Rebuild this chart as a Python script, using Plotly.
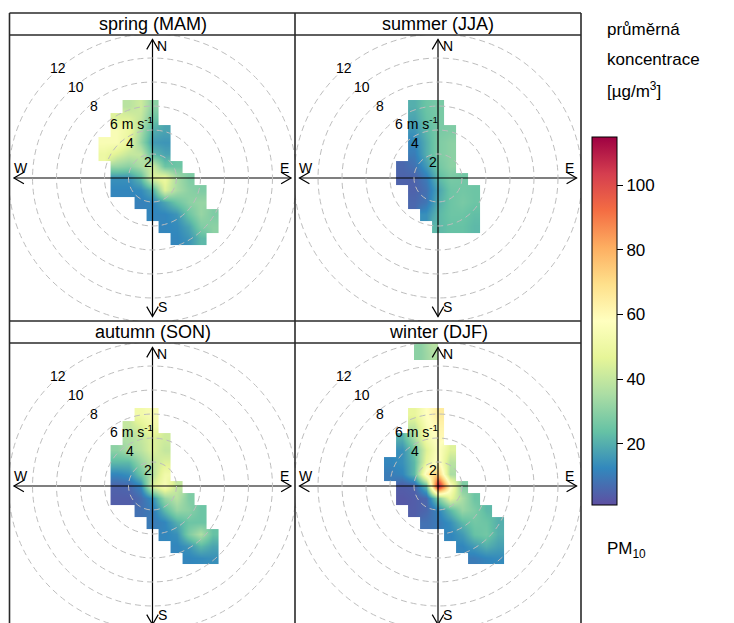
import plotly.graph_objects as go

# ---------------- data ----------------
SEASONS = ["spring (MAM)", "summer (JJA)", "autumn (SON)", "winter (DJF)"]
U_COLS = [-4, -3, -2, -1, 0, 1, 2, 3, 4, 5, 6]            # east-west wind component [m/s]
V_ROWS = [6, 5, 4, 3, 2, 1, 0, -1, -2, -3, -4, -5, -6]    # north-south wind component [m/s]
N = None

SPRING = [
    [N, N, 38, 42, 30, N, N, N, N, N, N],
    [N, 45, 45, 40, 25, N, N, N, N, N, N],
    [N, 55, 50, 35, 20, 18, N, N, N, N, N],
    [55, 55, 48, 32, 16, 15, N, N, N, N, N],
    [50, 45, 40, 40, 22, 18, N, N, N, N, N],
    [N, 32, 30, 35, 42, 25, 25, N, N, N, N],
    [N, 14, 14, 22, 45, 50, 35, 28, N, N, N],
    [N, 12, 12, 13, 20, 45, 35, 30, 28, N, N],
    [N, N, N, 11, 12, 18, 25, 30, 32, N, N],
    [N, N, N, N, 12, 12, 15, 25, 32, 28, N],
    [N, N, N, N, N, 12, 13, 18, 28, 30, N],
    [N, N, N, N, N, N, 12, 15, 22, N, N],
    [N, N, N, N, N, N, N, N, N, N, N],
]
SUMMER = [
    [N, N, 20, 25, 27, N, N, N, N, N, N],
    [N, N, 18, 24, 27, N, N, N, N, N, N],
    [N, N, 15, 22, 27, 28, N, N, N, N, N],
    [N, N, 12, 20, 28, 30, N, N, N, N, N],
    [N, N, 10, 20, 28, 30, N, N, N, N, N],
    [N, 6, 8, 16, 26, 30, N, N, N, N, N],
    [N, 5, 5, 10, 22, 27, 26, N, N, N, N],
    [N, N, 5, 8, 18, 25, 26, 25, N, N, N],
    [N, N, 6, 9, 20, 25, 27, 25, N, N, N],
    [N, N, N, 14, 22, 25, 25, 23, N, N, N],
    [N, N, N, N, 22, 24, 24, 22, N, N, N],
    [N, N, N, N, N, N, N, N, N, N, N],
    [N, N, N, N, N, N, N, N, N, N, N],
]
AUTUMN = [
    [N, N, N, 52, 55, N, N, N, N, N, N],
    [N, N, 40, 45, 52, N, N, N, N, N, N],
    [N, N, 36, 40, 45, 42, N, N, N, N, N],
    [N, 30, 35, 38, 45, 40, N, N, N, N, N],
    [N, 22, 22, 32, 40, 45, N, N, N, N, N],
    [N, 12, 14, 25, 38, 52, N, N, N, N, N],
    [N, 5, 6, 12, 45, 55, 40, N, N, N, N],
    [N, 4, 4, 7, 14, 32, 38, 28, N, N, N],
    [N, N, N, 8, 10, 22, 32, 30, 25, N, N],
    [N, N, N, N, 10, 12, 20, 25, 25, N, N],
    [N, N, N, N, N, 12, 14, 28, 36, 24, N],
    [N, N, N, N, N, N, 12, 15, 22, 18, N],
    [N, N, N, N, N, N, N, 12, 13, 14, N],
]
WINTER = [
    [N, N, 48, 58, 65, N, N, N, N, N, N],
    [N, N, 40, 55, 62, N, N, N, N, N, N],
    [N, 20, 35, 52, 60, N, N, N, N, N, N],
    [N, 14, 25, 45, 58, 45, N, N, N, N, N],
    [12, 14, 22, 48, 60, 38, N, N, N, N, N],
    [10, 12, 22, 62, 75, 35, N, N, N, N, N],
    [N, 4, 5, 22, 112, 60, 28, N, N, N, N],
    [N, 3, 4, 6, 28, 48, 35, 25, N, N, N],
    [N, N, 4, 6, 12, 22, 32, 28, 22, N, N],
    [N, N, N, 8, 10, 14, 22, 26, 25, 20, N],
    [N, N, N, N, N, 12, 16, 24, 26, 20, N],
    [N, N, N, N, N, N, 12, 16, 20, 17, N],
    [N, N, N, N, N, N, N, 10, 12, 13, N],
]
WINTER_TOP_U = [-1.5, -0.5]
WINTER_TOP_V = [11, 12]
WINTER_TOP = [[30, 36], [30, 38]]

GRIDS = [SPRING, SUMMER, AUTUMN, WINTER]
RING_SPEEDS = [2, 4, 6, 8, 10, 12]
TICK_VALUES = [20, 40, 60, 80, 100]
C_MIN, C_MAX = 1, 115
SPECTRAL_R = ["#5E4FA2", "#3288BD", "#66C2A5", "#ABDDA4", "#E6F598", "#FFFFBF",
              "#FEE08B", "#FDAE61", "#F46D43", "#D53E4F", "#9E0142"]

# ---------------- layout constants ----------------
W, H = 734, 623
FONT = "Liberation Sans, Arial, Helvetica, sans-serif"
PANEL = 286          # panel size in px
LEFTS = [9.5, 295]   # panel left edges px
TOPS = [35, 343]     # plot-area top edges px
STRIP = 22
R = 11.92            # half axis range in m/s
SCALE = PANEL / (2 * R)
UPPER = 11.55
HEAD_BACK, HEAD_SIDE = 0.83, 0.48

fig = go.Figure()
shapes = []
annotations = []

colorscale = [[i / (len(SPECTRAL_R) - 1), c] for i, c in enumerate(SPECTRAL_R)]

for i, (title, grid) in enumerate(zip(SEASONS, GRIDS)):
    n = i + 1
    col, row = i % 2, i // 2
    x0 = LEFTS[col]
    x1 = x0 + PANEL
    yt = TOPS[row]
    yb = min(yt + PANEL, H)
    xa = "x" if n == 1 else f"x{n}"
    ya = "y" if n == 1 else f"y{n}"
    ybottom = R - (yb - yt) / SCALE
    fig.update_layout(**{
        ("xaxis" if n == 1 else f"xaxis{n}"): dict(
            domain=[x0 / W, x1 / W], range=[-R, R], visible=False,
            anchor=ya, fixedrange=True),
        ("yaxis" if n == 1 else f"yaxis{n}"): dict(
            domain=[1 - yb / H, 1 - yt / H], range=[ybottom, R], visible=False,
            anchor=xa, fixedrange=True),
    })

    fig.add_trace(go.Heatmap(
        x=U_COLS, y=V_ROWS[::-1], z=grid[::-1], coloraxis="coloraxis",
        zsmooth="best", xaxis=xa, yaxis=ya, hoverinfo="skip"))
    if title.startswith("winter"):
        fig.add_trace(go.Heatmap(
            x=WINTER_TOP_U, y=WINTER_TOP_V, z=WINTER_TOP, coloraxis="coloraxis",
            zsmooth="best", xaxis=xa, yaxis=ya, hoverinfo="skip"))

    # dashed speed rings
    for r in RING_SPEEDS:
        shapes.append(dict(type="circle", xref=xa, yref=ya, x0=-r, x1=r, y0=-r, y1=r,
                           line=dict(color="#BDBDBD", width=1, dash="6px,4px"),
                           layer="above"))

    # compass cross with open arrow heads
    U, hb, hs = UPPER, HEAD_BACK, HEAD_SIDE
    xs = [-U, U, None, 0, 0, None,
          U - hb, U, U - hb, None, -U + hb, -U, -U + hb, None,
          hs, 0, -hs, None, hs, 0, -hs]
    ys = [0, 0, None, -U, U, None,
          hs, 0, -hs, None, hs, 0, -hs, None,
          U - hb, U, U - hb, None, -U + hb, -U, -U + hb]
    fig.add_trace(go.Scatter(x=xs, y=ys, mode="lines", xaxis=xa, yaxis=ya,
                             line=dict(color="black", width=1.2),
                             hoverinfo="skip", showlegend=False))

    for txt, ax_, ay_ in [("N", 0.07 * U, 0.95 * U), ("S", 0.07 * U, -0.93 * U),
                          ("W", -0.95 * U, 0.07 * U), ("E", 0.95 * U, 0.07 * U)]:
        annotations.append(dict(text=txt, x=ax_, y=ay_, xref=xa, yref=ya,
                                showarrow=False, font=dict(size=14, color="black", family=FONT),
                                xanchor="center", yanchor="middle", borderpad=0))

    for r in RING_SPEEDS:
        lx = -0.745 * r + 1.09
        ly = 0.778 * r - 0.2
        if r == 6:
            annotations.append(dict(text="6 m s<sup>-1</sup>", x=lx - 0.33, y=ly + 0.15,
                                    xref=xa, yref=ya, showarrow=False,
                                    font=dict(size=14, color="black", family=FONT),
                                    xanchor="left", yanchor="middle"))
        else:
            annotations.append(dict(text=str(r), x=lx, y=ly, xref=xa, yref=ya,
                                    showarrow=False,
                                    font=dict(size=14, color="black", family=FONT),
                                    xanchor="center", yanchor="middle"))

    # strip title
    annotations.append(dict(text=title, x=(x0 + PANEL / 2) / W, y=1 - (yt - STRIP / 2) / H,
                            xref="paper", yref="paper", showarrow=False,
                            font=dict(size=18, color="black", family=FONT),
                            xanchor="center", yanchor="middle"))

# panel borders & strips
BORDER = dict(color="#2a2a2a", width=1.6)
for yline in [TOPS[0] - STRIP, TOPS[0], TOPS[1] - STRIP, TOPS[1]]:
    shapes.append(dict(type="line", xref="paper", yref="paper",
                       x0=LEFTS[0] / W, x1=(LEFTS[1] + PANEL) / W,
                       y0=1 - yline / H, y1=1 - yline / H, line=BORDER, layer="above"))
for xline in [LEFTS[0], LEFTS[1], LEFTS[1] + PANEL]:
    shapes.append(dict(type="line", xref="paper", yref="paper",
                       x0=xline / W, x1=xline / W,
                       y0=1 - (TOPS[0] - STRIP) / H, y1=-0.05, line=BORDER, layer="above"))

# colour key texts
for txt, ypx in [("průměrná", 30), ("koncentrace", 60), ("[µg/m<sup>3</sup>]", 90),
                 ("PM<sub>10</sub>", 550)]:
    annotations.append(dict(text=txt, x=605 / W, y=1 - ypx / H, xref="paper", yref="paper",
                            showarrow=False, xanchor="left", yanchor="middle",
                            font=dict(size=17, color="black", family=FONT)))

BAR_TOP, BAR_BOT = 137, 505
fig.update_layout(
    width=W, height=H,
    margin=dict(l=0, r=0, t=0, b=0),
    paper_bgcolor="white", plot_bgcolor="white",
    showlegend=False,
    font=dict(family=FONT, color="black"),
    coloraxis=dict(
        cmin=C_MIN, cmax=C_MAX, colorscale=colorscale,
        colorbar=dict(
            x=592 / W, xanchor="left", xpad=0, xref="paper",
            y=1 - (BAR_TOP + BAR_BOT) / 2 / H, yanchor="middle", ypad=0, yref="paper",
            len=(BAR_BOT - BAR_TOP) / H, lenmode="fraction",
            thickness=25, thicknessmode="pixels",
            outlinewidth=1, outlinecolor="black",
            ticks="outside", ticklen=6, tickwidth=1, tickcolor="black",
            tickvals=TICK_VALUES, ticktext=[str(v) for v in TICK_VALUES],
            tickfont=dict(size=17, color="black", family=FONT),
        ),
    ),
    shapes=shapes,
    annotations=annotations,
)

fig.write_html("out.html", config={"displayModeBar": False},
               post_script="document.body.style.margin='0px';document.body.style.padding='0px';")
